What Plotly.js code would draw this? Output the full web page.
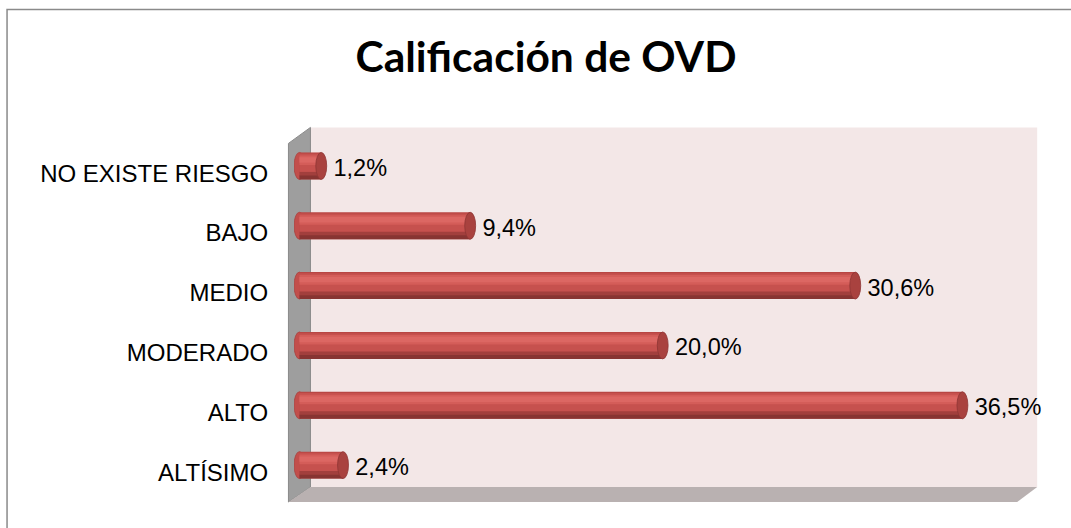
<!DOCTYPE html>
<html>
<head>
<meta charset="utf-8">
<script src="https://cdn.plot.ly/plotly-3.0.1.min.js"></script>
<style>
  html, body { margin: 0; padding: 0; background: #ffffff; }
  #chart { width: 1071px; height: 528px; }
</style>
</head>
<body>
<div id="chart"></div>
<script>
// ---- data ----
var categories = ["NO EXISTE RIESGO", "BAJO", "MEDIO", "MODERADO", "ALTO", "ALTÍSIMO"];
var values = [1.2, 9.4, 30.6, 20.0, 36.5, 2.4];
var chartTitle = "Calificación de OVD";

// ---- geometry (pixels) ----
var W = 1071, H = 528;
var zeroPx = 299, unitPx = 18.17;
var xMin = -0.3, xMax = 40;
var plotL = zeroPx + xMin * unitPx;
var plotR = zeroPx + xMax * unitPx;
var plotT = 135.6, plotB = 502;
function xp(px) { return (px - plotL) / (plotR - plotL); }
function yp(py) { return (plotB - py) / (plotB - plotT); }
function dom(top, bottom) { return [Math.max(0, yp(bottom)), Math.min(1, yp(top))]; }
function poly(pts) {
  return pts.map(function (p, i) { return (i ? "L" : "M") + xp(p[0]) + "," + yp(p[1]); }).join(" ") + " Z";
}

var shapes = [];
// outer frame (left and top edges)
shapes.push({ type: "path", xref: "paper", yref: "paper", layer: "below",
  path: "M" + xp(6.5) + "," + yp(H) + " L" + xp(6.5) + "," + yp(9) + " L" + xp(W) + "," + yp(9),
  line: { color: "#8a8a8a", width: 1.5 } });
// back wall
shapes.push({ type: "path", xref: "paper", yref: "paper", layer: "below",
  path: poly([[310,127],[1037,127],[1037,487],[310,487]]),
  fillcolor: "#F3E7E7", line: { width: 0 } });
// side wall
shapes.push({ type: "path", xref: "paper", yref: "paper", layer: "below",
  path: poly([[288,143],[310,127],[310,487],[288,502]]),
  fillcolor: "#9E9E9E", line: { color: "#8a8a8a", width: 1 } });
// floor
shapes.push({ type: "path", xref: "paper", yref: "paper", layer: "below",
  path: poly([[288,502],[310,487],[1037,487],[1017,502]]),
  fillcolor: "#B9B1B1", line: { width: 0 } });

// cylinder caps built from the data
var half = 0.225, capW = 0.3;
values.forEach(function (v, i) {
  shapes.push({ type: "circle", xref: "x", yref: "y2", layer: "below",
    x0: -capW, x1: capW, y0: i - half, y1: i + half,
    fillcolor: "#C24E4B", line: { color: "#A84240", width: 0.8 } });
  shapes.push({ type: "circle", xref: "x", yref: "y2", layer: "above",
    x0: v - capW, x1: v + capW, y0: i - half, y1: i + half,
    fillcolor: "#A9423F", line: { color: "#8E3533", width: 0.8 } });
});

function layer(offset, width, color) {
  return { type: "bar", orientation: "h", x: values, y: categories, yaxis: "y2",
    offset: offset, width: width, marker: { color: color, line: { width: 0 } },
    hoverinfo: "skip", showlegend: false };
}

var traces = [
  // category labels (front plane)
  { type: "scatter", mode: "markers", x: values, y: categories, yaxis: "y",
    marker: { size: 1, opacity: 0 }, hoverinfo: "skip", showlegend: false },
  layer(-half, 2 * half, "#B84643"),
  layer(-0.205, 0.36, "#C6514E"),
  layer(-0.175, 0.16, "#D45D59"),
  layer(-0.145, 0.09, "#DC6763"),
  layer(0.10, 0.07, "#A23F3D"),
  layer(0.16, 0.065, "#873432"),
  { type: "scatter", mode: "markers+text", x: values, y: categories, yaxis: "y3",
    marker: { size: 18, opacity: 0 },
    texttemplate: "%{x:.1f}%", textposition: "middle right",
    textfont: { family: "Liberation Sans, Arial, sans-serif", size: 23.5, color: "#000000" },
    hoverinfo: "skip", showlegend: false, cliponaxis: false }
];

var catRange = [categories.length - 0.5, -0.5];
var catAxis = { type: "category", autorange: false, range: catRange, showgrid: false, zeroline: false,
  showline: false, fixedrange: true, categoryorder: "array", categoryarray: categories };

var layout = {
  width: W, height: H,
  separators: ",.",
  paper_bgcolor: "rgba(0,0,0,0)",
  plot_bgcolor: "rgba(0,0,0,0)",
  margin: { l: plotL, r: W - plotR, t: plotT, b: H - plotB, pad: 0 },
  barmode: "overlay",
  title: { text: "<b>" + chartTitle + "</b>", x: 546 / W, xanchor: "center",
    y: 1 - 57 / H, yanchor: "middle", yref: "container",
    font: { family: "Lato, Carlito, Calibri, sans-serif", size: 42.5, color: "#000000" } },
  xaxis: { range: [xMin, xMax], showgrid: false, zeroline: false, showticklabels: false,
    ticks: "", showline: false, fixedrange: true },
  yaxis: Object.assign({}, catAxis, { domain: dom(143, 502), anchor: "x",
    ticks: "outside", ticklen: 20, tickcolor: "rgba(0,0,0,0)",
    tickfont: { family: "Liberation Sans, Arial, sans-serif", size: 24, color: "#000000" } }),
  yaxis2: Object.assign({}, catAxis, { domain: dom(135.6, 495), anchor: "x",
    showticklabels: false, ticks: "" }),
  yaxis3: Object.assign({}, catAxis, { domain: dom(140.1, 498.9), anchor: "x",
    showticklabels: false, ticks: "" }),
  shapes: shapes
};

Plotly.newPlot("chart", traces, layout, { displayModeBar: false, staticPlot: true });
</script>
</body>
</html>
